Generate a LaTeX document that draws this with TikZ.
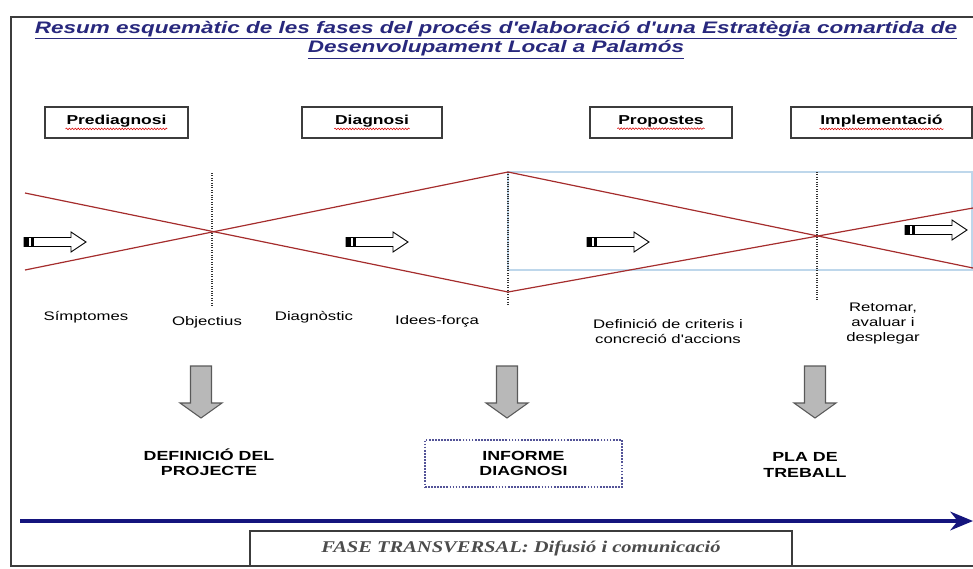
\documentclass[tikz,border=0pt]{standalone}
\usepackage{fontspec}
\setmainfont{Liberation Sans}
\newfontfamily\widesans[FakeStretch=1.35]{Liberation Sans}
\newfontfamily\wideserif[FakeStretch=1.25]{Liberation Serif}
\usetikzlibrary{arrows.meta,decorations.pathmorphing}
\definecolor{titleblue}{RGB}{40,40,125}
\definecolor{crossred}{RGB}{165,45,45}
\definecolor{paleblue}{RGB}{190,215,235}
\definecolor{timenavy}{RGB}{20,20,125}
\definecolor{framegray}{RGB}{60,60,60}
\tikzstyle{phasebox}=[
	rectangle,
	draw=framegray,
	line width=1pt,
	minimum height=23.25pt
]
\tikzstyle{phasetext}=[
	inner sep=0.5pt,
	font=\widesans\bfseries\fontsize{9.7}{11}\selectfont
]
\tikzstyle{squiggle}=[
	red!85!black,
	line width=0.4pt,
	decorate,
	decoration={snake,amplitude=0.6pt,segment length=2.2pt}
]
\tikzstyle{crossline}=[
	crossred,
	line width=0.9pt
]
\tikzstyle{milestone}=[
	densely dotted,
	line width=0.8pt,
	black!80
]
\tikzstyle{step label}=[
	align=center,
	font=\widesans\fontsize{9.3}{11.25}\selectfont
]
\tikzstyle{result}=[
	align=center,
	font=\widesans\bfseries\fontsize{9.9}{11.6}\selectfont
]
\tikzstyle{downarrow}=[
	draw=black!65,
	fill=black!28,
	line width=0.8pt
]
\tikzstyle{smallarrow}=[
	draw=black,
	fill=white,
	line width=0.7pt
]
\tikzstyle{timeline}=[
	timenavy,
	line width=2.6pt,
	-{Stealth[length=17pt,width=14pt]}
]

\begin{document}
\begin{tikzpicture}[x=0.75pt,y=-0.75pt]
\useasboundingbox (0,0) rectangle (973,568);

% outer frame
\draw[framegray,line width=1.1pt] (975,17) -- (11,17) -- (11,566) -- (975,566);

% title
\node[titleblue,align=center,font=\widesans\bfseries\itshape\fontsize{12.5}{11.6}\selectfont] (title) at (496,40)
	{\underline{Resum esquemàtic de les fases del procés d'elaboració d'una Estratègia comartida de}\\
	 \underline{Desenvolupament Local a Palamós}};

% phases
\foreach \nm/\cx/\bw/\txt in {prediag/116.5/143/Prediagnosi, diag/372/140/Diagnosi, prop/661/142/Propostes, impl/881.5/181/Implementació} {
	\node[phasebox,minimum width=\bw*0.75pt] (\nm-box) at (\cx,122.5) {};
	\node[phasetext] (\nm) at (\cx,121.5) {\txt};
	\draw[squiggle] ([yshift=-0.3pt]\nm.south west) -- ([yshift=-0.3pt]\nm.south east);
}

% crossing lines
\coordinate (lt) at (25,193);
\coordinate (lb) at (25,270);
\coordinate (mt) at (508,172);
\coordinate (mb) at (508,292);
\coordinate (rt) at (973,208);
\coordinate (rb) at (973,268);
\coordinate (x1) at (212,232);
\coordinate (x2) at (817,236);
\draw[paleblue,line width=0.9pt] (mt) rectangle (972,270);
\draw[milestone] (212,173) -- (212,306);
\draw[milestone] (508,172) -- (508,306);
\draw[milestone] (817,172) -- (817,300);
\draw[crossline] (lt) -- (mb) -- (rt);
\draw[crossline] (lb) -- (mt) -- (rb);

% small arrows
\foreach \ax/\ay in {24/242, 346/242, 587/242, 905/230} {
	\draw[smallarrow] (\ax,\ay-4.5) -- (\ax+47,\ay-4.5) -- (\ax+47,\ay-10) -- (\ax+62,\ay)
		-- (\ax+47,\ay+10) -- (\ax+47,\ay+4.5) -- (\ax,\ay+4.5) -- cycle;
	\fill (\ax,\ay-4.5) rectangle (\ax+5,\ay+4.5);
	\fill (\ax+7,\ay-4.5) rectangle (\ax+9.5,\ay+4.5);
}

% steps
\node[step label] (sympt) at (86,317) {Símptomes};
\node[step label] (obj) at (207,322) {Objectius};
\node[step label] (diagc) at (314,317) {Diagnòstic};
\node[step label] (idees) at (437,321) {Idees-força};
\node[step label] (crit) at (668,331) {Definició de criteris i\\concreció d'accions};
\node[step label] (retom) at (883,324) {Retomar,\\avaluar i\\desplegar};

% down arrows
\foreach \ax in {201, 507, 815} {
	\draw[downarrow] (\ax-10.5,366) -- (\ax+10.5,366) -- (\ax+10.5,403) -- (\ax+21,403)
		-- (\ax,418) -- (\ax-21,403) -- (\ax-10.5,403) -- cycle;
}

% results
\node[result] (defproj) at (209,462) {DEFINICIÓ DEL\\PROJECTE};
\node[result,draw=titleblue!80,densely dotted,line width=1.3pt,minimum width=147.75pt,minimum height=35.25pt] (informe) at (523.5,463.5) {INFORME\\DIAGNOSI};
\node[result] (pla) at (805,465) {PLA DE\\TREBALL};

% transversal phase
\coordinate (tstart) at (20,521);
\coordinate (tend) at (973,521);
\draw[timeline] (tstart) -- (tend);
\node[draw=framegray,line width=1.1pt,fill=white,minimum width=406.5pt,minimum height=26.25pt,
	text=black!70,font=\wideserif\bfseries\itshape\fontsize{12.3}{13}\selectfont] (transv) at (521,548.5)
	{FASE TRANSVERSAL: Difusió i comunicació};
\end{tikzpicture}
\end{document}
